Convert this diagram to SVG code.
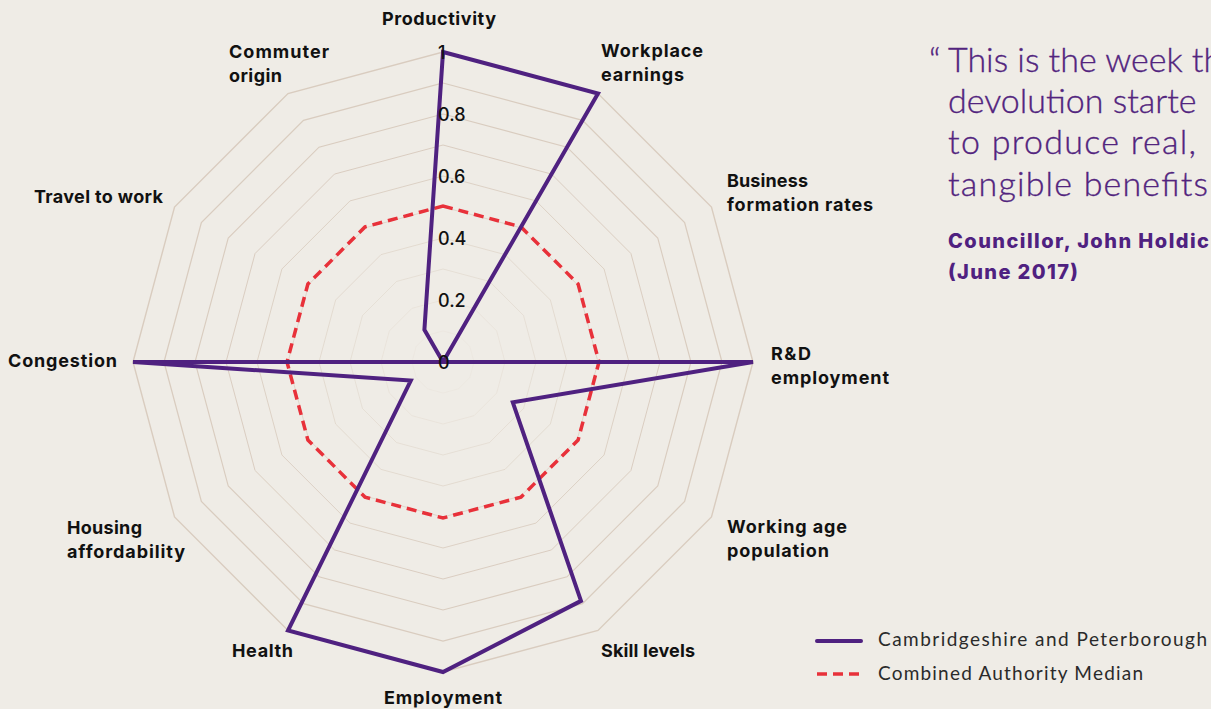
<svg xmlns="http://www.w3.org/2000/svg" xmlns:xlink="http://www.w3.org/1999/xlink" width="1211" height="709" viewBox="0 0 1211 709">
<style>
.grid{fill:none;stroke:#d9ccbf;stroke-width:1.4;vector-effect:non-scaling-stroke}
.lbl{font-family:Inter,"Liberation Sans",sans-serif;font-weight:700;font-size:18px;fill:#111}
.val{font-family:Inter,"Liberation Sans",sans-serif;font-weight:500;font-size:18px;fill:#111}
.quote{font-family:Lato,"Liberation Sans",sans-serif;font-weight:300;font-size:34px;fill:#52247e;stroke:#52247e;stroke-width:0.35}
.attr{font-family:Inter,"Liberation Sans",sans-serif;font-weight:800;font-size:20px;fill:#4f2180}
.leg{font-family:Lato,"Liberation Sans",sans-serif;font-weight:400;font-size:19px;fill:#2a2a2a}
.cp{fill:none;stroke:#4f2180;stroke-width:4;stroke-linejoin:miter}
.med{fill:none;stroke:#e8313a;stroke-width:3.5;stroke-dasharray:10 6}
</style>
<defs>
<polygon id="ring" points="0,-310 155,-268.47 268.47,-155 310,0 268.47,155 155,268.47 0,310 -155,268.47 -268.47,155 -310,0 -268.47,-155 -155,-268.47"/>
</defs>
<rect x="0" y="0" width="1211" height="709" fill="#efece6"/>
<g id="grid" transform="translate(443 362)">
<use xlink:href="#ring" class="grid" transform="scale(0.1)"/>
<use xlink:href="#ring" class="grid" transform="scale(0.2)"/>
<use xlink:href="#ring" class="grid" transform="scale(0.3)"/>
<use xlink:href="#ring" class="grid" transform="scale(0.4)"/>
<use xlink:href="#ring" class="grid" transform="scale(0.5)"/>
<use xlink:href="#ring" class="grid" transform="scale(0.6)"/>
<use xlink:href="#ring" class="grid" transform="scale(0.7)"/>
<use xlink:href="#ring" class="grid" transform="scale(0.8)"/>
<use xlink:href="#ring" class="grid" transform="scale(0.9)"/>
<use xlink:href="#ring" class="grid" transform="scale(1)"/>
</g>
<g id="series">
<polygon id="median" class="med" points="443,206 521,226.9 578.1,284 599,362 578.1,440 521,497.1 443,518 365,497.1 307.9,440 287,362 307.9,284 365,226.9"/>
<polygon id="cambridgeshire" class="cp" points="443,52 598,93.5 443,362 753,362 512.8,402.3 581,600.9 443,672 288,630.5 410.8,380.6 133,362 443,362 424.4,329.8"/>
</g>
<g id="scale">
<text class="val" x="438" y="59">1</text>
<text class="val" x="438" y="121">0.8</text>
<text class="val" x="438" y="183">0.6</text>
<text class="val" x="438" y="245">0.4</text>
<text class="val" x="438" y="307">0.2</text>
<text class="val" x="438" y="369">0</text>
</g>
<g id="axis-labels">
<g id="lbl-productivity"><text class="lbl" x="382" y="25" textLength="114">Productivity</text></g>
<g id="lbl-workplace"><text class="lbl" x="601" y="57" textLength="102">Workplace</text><text class="lbl" x="601" y="81" textLength="83">earnings</text></g>
<g id="lbl-business"><text class="lbl" x="727" y="187" textLength="81">Business</text><text class="lbl" x="727" y="211" textLength="146">formation rates</text></g>
<g id="lbl-rd"><text class="lbl" x="771" y="360" textLength="40">R&amp;D</text><text class="lbl" x="771" y="384" textLength="118">employment</text></g>
<g id="lbl-working"><text class="lbl" x="727" y="533" textLength="120">Working age</text><text class="lbl" x="727" y="557" textLength="102">population</text></g>
<g id="lbl-skill"><text class="lbl" x="601" y="657" textLength="94">Skill levels</text></g>
<g id="lbl-employment"><text class="lbl" x="384" y="704" textLength="118">Employment</text></g>
<g id="lbl-health"><text class="lbl" x="232" y="657" textLength="61">Health</text></g>
<g id="lbl-housing"><text class="lbl" x="67" y="534" textLength="75">Housing</text><text class="lbl" x="67" y="558" textLength="118">affordability</text></g>
<g id="lbl-congestion"><text class="lbl" x="8" y="367" textLength="109">Congestion</text></g>
<g id="lbl-travel"><text class="lbl" x="34" y="203" textLength="129">Travel to work</text></g>
<g id="lbl-commuter"><text class="lbl" x="229" y="58" textLength="100">Commuter</text><text class="lbl" x="229" y="82" textLength="53">origin</text></g>
</g>
<g id="quote">
<text class="quote" x="929" y="72">“</text>
<text class="quote" x="948" y="72">This is the week th</text>
<text class="quote" x="948" y="113">devolution starte</text>
<text class="quote" x="948" y="154" textLength="248">to produce real,</text>
<text class="quote" x="948" y="196" textLength="260">tangible benefits</text>
<text class="attr" x="948" y="248" textLength="261">Councillor, John Holdic</text>
<text class="attr" x="948" y="279" textLength="130">(June 2017)</text>
</g>
<g id="legend">
<line x1="817" y1="641" x2="861" y2="641" stroke="#4f2180" stroke-width="4" stroke-linecap="round"/>
<text class="leg" x="878" y="646" textLength="329">Cambridgeshire and Peterborough</text>
<line x1="817" y1="674" x2="862" y2="674" stroke="#e8313a" stroke-width="3.5" stroke-dasharray="10 6"/>
<text class="leg" x="878" y="680" textLength="265">Combined Authority Median</text>
</g>
</svg>
